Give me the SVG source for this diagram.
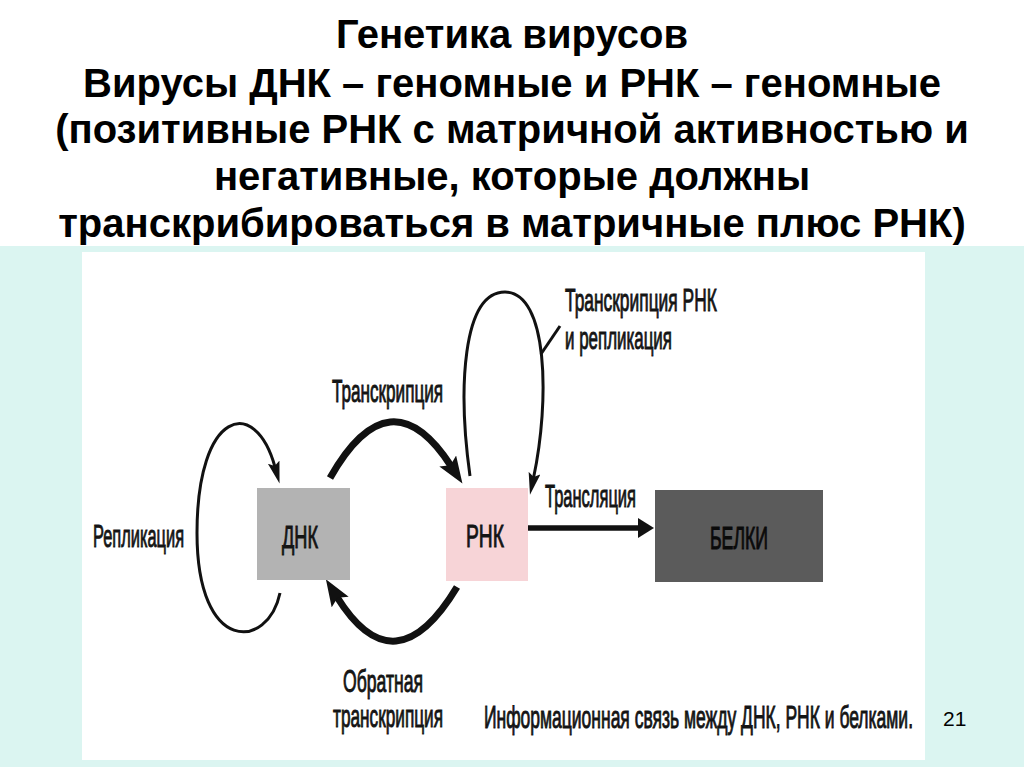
<svg xmlns="http://www.w3.org/2000/svg" width="1024" height="767" viewBox="0 0 1024 767">
<defs>
<style>
.title{font-family:"Liberation Sans",Arial,sans-serif;font-weight:bold;font-size:40px;fill:#000;text-anchor:middle}
.lbl{font-family:"Liberation Sans",Arial,sans-serif;font-size:32px;fill:#141414;stroke:#141414;stroke-width:1}
.thin{fill:none;stroke:#111;stroke-width:3}
.thick{fill:none;stroke:#111;stroke-width:7}
.num{font-family:"Liberation Sans",Arial,sans-serif;font-size:21px;fill:#000}
</style>
<marker id="headThick" markerUnits="userSpaceOnUse" markerWidth="30" markerHeight="22" refX="6" refY="10" orient="auto">
<path d="M0,0 L27,10 L0,20 L5,10 z" fill="#111"/>
</marker>
<marker id="headThin" markerUnits="userSpaceOnUse" markerWidth="24" markerHeight="14" refX="5" refY="6" orient="auto">
<path d="M0,0 L22,6 L0,12 L4,6 z" fill="#111"/>
</marker>
<marker id="headFlat" markerUnits="userSpaceOnUse" markerWidth="18" markerHeight="22" refX="2" refY="10" orient="auto">
<path d="M0,0 L16,10 L0,20 z" fill="#111"/>
</marker>
</defs>
<rect x="0" y="0" width="1024" height="767" fill="#ffffff"/>
<rect x="0" y="246" width="1024" height="521" fill="#dbf5f1"/>
<rect x="82" y="252" width="843" height="508" fill="#ffffff"/>
<g id="title">
<text class="title" x="512" y="48">Генетика вирусов</text>
<text class="title" x="512" y="97">Вирусы ДНК – геномные и РНК – геномные</text>
<text class="title" x="512" y="143">(позитивные РНК с матричной активностью и</text>
<text class="title" x="512" y="190">негативные, которые должны</text>
<text class="title" x="512" y="237">транскрибироваться в матричные плюс РНК)</text>
</g>
<g id="connectors">
<path class="thin" d="M280,593 C268,650 197,655 197,533 C197,410 255,395 275,467" marker-end="url(#headThin)"/>
<path class="thick" d="M330,478 Q390,372 451,466" marker-end="url(#headThick)"/>
<path class="thick" d="M457,587 Q395,690 337,597" marker-end="url(#headThick)"/>
<path class="thin" d="M470,476 C458,390 462,292 505,292 C548,292 550,400 533.5,478" marker-end="url(#headThin)"/>
<line class="thin" x1="541" y1="354" x2="560" y2="326" stroke-width="2.5"/>
<line x1="528" y1="528" x2="640" y2="528" stroke="#111" stroke-width="5.5" marker-end="url(#headFlat)"/>
</g>
<g id="dna">
<rect x="257" y="488" width="93" height="92" fill="#b3b3b3"/>
<text class="lbl" transform="translate(282,548) scale(0.55,1)" textLength="65.5" lengthAdjust="spacingAndGlyphs">ДНК</text>
</g>
<g id="rna">
<rect x="446" y="488" width="82" height="93" fill="#f7d4d7"/>
<text class="lbl" transform="translate(466,547) scale(0.55,1)" textLength="69" lengthAdjust="spacingAndGlyphs">РНК</text>
</g>
<g id="proteins">
<rect x="655" y="490" width="168" height="92" fill="#5b5b5b"/>
<text class="lbl" transform="translate(710,549) scale(0.55,1)" textLength="105.5" lengthAdjust="spacingAndGlyphs" style="fill:#0a0a0a;stroke:#0a0a0a">БЕЛКИ</text>
</g>
<g id="labels">
<text class="lbl" transform="translate(93,547) scale(0.55,1)" textLength="165.5" lengthAdjust="spacingAndGlyphs">Репликация</text>
<text class="lbl" transform="translate(332,402) scale(0.55,1)" textLength="202" lengthAdjust="spacingAndGlyphs">Транскрипция</text>
<text class="lbl" transform="translate(565,311) scale(0.55,1)" textLength="276" lengthAdjust="spacingAndGlyphs">Транскрипция РНК</text>
<text class="lbl" transform="translate(565,349) scale(0.55,1)" textLength="194.5" lengthAdjust="spacingAndGlyphs">и репликация</text>
<text class="lbl" transform="translate(545,507) scale(0.55,1)" textLength="165.5" lengthAdjust="spacingAndGlyphs">Трансляция</text>
<text class="lbl" transform="translate(343,692) scale(0.55,1)" textLength="145.5" lengthAdjust="spacingAndGlyphs">Обратная</text>
<text class="lbl" transform="translate(333,727) scale(0.55,1)" textLength="200" lengthAdjust="spacingAndGlyphs">транскрипция</text>
<text class="lbl" transform="translate(484,728) scale(0.55,1)" textLength="780" lengthAdjust="spacingAndGlyphs">Информационная связь между ДНК, РНК и белками.</text>
<text class="num" x="943" y="726">21</text>
</g>
</svg>
